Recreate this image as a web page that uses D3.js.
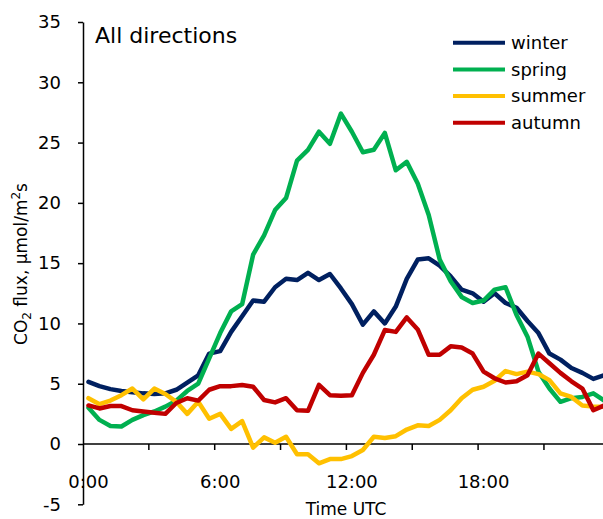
<!DOCTYPE html>
<html>
<head>
<meta charset="utf-8">
<script src="https://cdn.jsdelivr.net/npm/d3@7"></script>
<style>
  html, body { margin: 0; padding: 0; background: #fff; }
  svg { display: block; }
  text { font-family: "DejaVu Sans", Verdana, sans-serif; fill: #000; }
</style>
</head>
<body>
<svg id="chart" width="603" height="519"></svg>
<script>
// ---- data (half-hourly, 0:00 .. 23:30 UTC) ----
const times = d3.range(48).map(i => Math.floor(i / 2) + ":" + (i % 2 ? "30" : "00"));
const xTickLabels = ["0:00", "6:00", "12:00", "18:00"];
const yTicks = [-5, 0, 5, 10, 15, 20, 25, 30, 35];
const seriesNames = ["winter", "spring", "summer", "autumn"];
const seriesColors = ["#002060", "#00B050", "#FFC000", "#C00000"];

const winter = [5.15, 4.8, 4.55, 4.4, 4.3, 4.2, 4.15, 4.2, 4.5, 5.1, 5.7, 7.5, 7.7, 9.3, 10.6, 11.9,
  11.8, 13.0, 13.7, 13.6, 14.2, 13.6, 14.1, 12.9, 11.6, 9.9, 11.0, 10.0, 11.4, 13.7, 15.3, 15.4,
  14.8, 13.9, 12.8, 12.5, 11.8, 12.5, 11.7, 11.3, 10.2, 9.2, 7.5, 7.0, 6.3, 5.9, 5.4, 5.7];
const spring = [3.0, 2.0, 1.5, 1.45, 2.0, 2.4, 2.7, 3.1, 3.6, 4.4, 5.0, 7.1, 9.2, 11.0, 11.6, 15.7,
  17.3, 19.4, 20.4, 23.5, 24.4, 25.9, 24.9, 27.4, 25.9, 24.2, 24.4, 25.8, 22.7, 23.4, 21.6, 19.0,
  15.3, 13.5, 12.2, 11.7, 11.9, 12.8, 13.0, 10.7, 8.9, 6.0, 4.6, 3.5, 3.8, 3.9, 4.2, 3.6];
const summer = [3.8, 3.3, 3.6, 4.05, 4.6, 3.7, 4.6, 4.15, 3.5, 2.5, 3.5, 2.1, 2.5, 1.25, 1.9, -0.3,
  0.55, 0.1, 0.6, -0.85, -0.85, -1.6, -1.25, -1.25, -1.0, -0.5, 0.6, 0.5, 0.65, 1.2, 1.55, 1.5,
  2.0, 2.8, 3.8, 4.5, 4.75, 5.25, 6.05, 5.8, 6.0, 5.8, 5.3, 4.2, 3.9, 3.2, 3.1, 3.1];
const autumn = [3.2, 2.95, 3.15, 3.15, 2.8, 2.7, 2.6, 2.5, 3.4, 3.8, 3.6, 4.5, 4.8, 4.8, 4.9, 4.75,
  3.65, 3.45, 3.8, 2.8, 2.75, 4.9, 4.05, 4.0, 4.05, 5.9, 7.4, 9.45, 9.3, 10.5, 9.5, 7.4,
  7.4, 8.1, 8.0, 7.5, 6.0, 5.45, 5.1, 5.2, 5.7, 7.5, 6.7, 5.9, 5.2, 4.6, 2.8, 3.2];
const seriesValues = [winter, spring, summer, autumn];

// ---- layout ----
const svg = d3.select("#chart");
const plotLeft = 83, catW = 10.975;
const plotRight = plotLeft + times.length * catW;
const yTop = 22, yBottom = 504.3;

const x = d3.scaleBand().domain(times).range([plotLeft, plotRight]).paddingInner(0).paddingOuter(0);
const xc = t => x(t) + x.bandwidth() / 2;
const y = d3.scaleLinear().domain([-5, 35]).range([yBottom, yTop]);

svg.append("rect").attr("width", 603).attr("height", 519).attr("fill", "#fff");

// ---- y axis ----
const yAxis = d3.axisLeft(y).tickValues(yTicks).tickSize(5).tickSizeOuter(0).tickPadding(17)
  .tickFormat(d => String(d));
const gy = svg.append("g").attr("transform", `translate(${plotLeft},0)`).call(yAxis);
gy.select(".domain").attr("stroke", "#000").attr("stroke-width", 1.5);
gy.selectAll(".tick line").attr("stroke", "#000").attr("stroke-width", 1.5);
gy.selectAll(".tick text").attr("font-size", 18).attr("font-family", "DejaVu Sans, Verdana, sans-serif").attr("fill", "#000");

// ---- x axis (at y = 0) ----
const y0 = y(0);
const gx = svg.append("g");
gx.append("line").attr("x1", plotLeft).attr("x2", plotRight).attr("y1", y0).attr("y2", y0)
  .attr("stroke", "#000").attr("stroke-width", 1.5);
const tickIdx = d3.range(6, times.length + 1, 6);
gx.selectAll("line.tk").data(tickIdx).join("line").attr("class", "tk")
  .attr("x1", i => i < times.length ? x(times[i]) : plotRight)
  .attr("x2", i => i < times.length ? x(times[i]) : plotRight)
  .attr("y1", y0).attr("y2", y0 + 6).attr("stroke", "#000").attr("stroke-width", 1.5);
gx.selectAll("text").data(xTickLabels).join("text")
  .attr("x", d => xc(d)).attr("y", 487.5).attr("text-anchor", "middle").attr("font-size", 18)
  .text(d => d);

// ---- lines ----
const line = d3.line().x((d, i) => xc(times[i])).y(d => y(d));
svg.append("defs").append("clipPath").attr("id", "clip")
  .append("rect").attr("x", plotLeft).attr("y", 0).attr("width", plotRight - plotLeft).attr("height", 519);
const gl = svg.append("g").attr("clip-path", "url(#clip)");
seriesValues.forEach((vals, k) => {
  gl.append("path").datum(vals).attr("d", line).attr("fill", "none")
    .attr("stroke", seriesColors[k]).attr("stroke-width", 4.5)
    .attr("stroke-linejoin", "round").attr("stroke-linecap", "round");
});

// ---- title ----
svg.append("text").attr("x", 95).attr("y", 43).attr("font-size", 22).text("All directions");

// ---- legend ----
const lg = svg.append("g");
seriesNames.forEach((name, k) => {
  const ly = 42.7 + k * 26.7;
  lg.append("line").attr("x1", 453).attr("x2", 505).attr("y1", ly).attr("y2", ly)
    .attr("stroke", seriesColors[k]).attr("stroke-width", 4);
  lg.append("text").attr("x", 511).attr("y", ly).attr("dy", "0.35em").attr("font-size", 18).text(name);
});

// ---- axis titles ----
svg.append("text").attr("x", 346).attr("y", 515).attr("text-anchor", "middle").attr("font-size", 17)
  .text("Time UTC");

const yl = svg.append("text").attr("transform", "translate(27,264) rotate(-90)")
  .attr("text-anchor", "middle").attr("font-size", 17);
yl.append("tspan").text("CO");
yl.append("tspan").attr("font-size", 12).attr("dy", 4).text("2");
yl.append("tspan").attr("dy", -4).text(" flux, µmol/m");
yl.append("tspan").attr("font-size", 12).attr("dy", -7).text("2");
yl.append("tspan").attr("dy", 7).text("s");
</script>
</body>
</html>
